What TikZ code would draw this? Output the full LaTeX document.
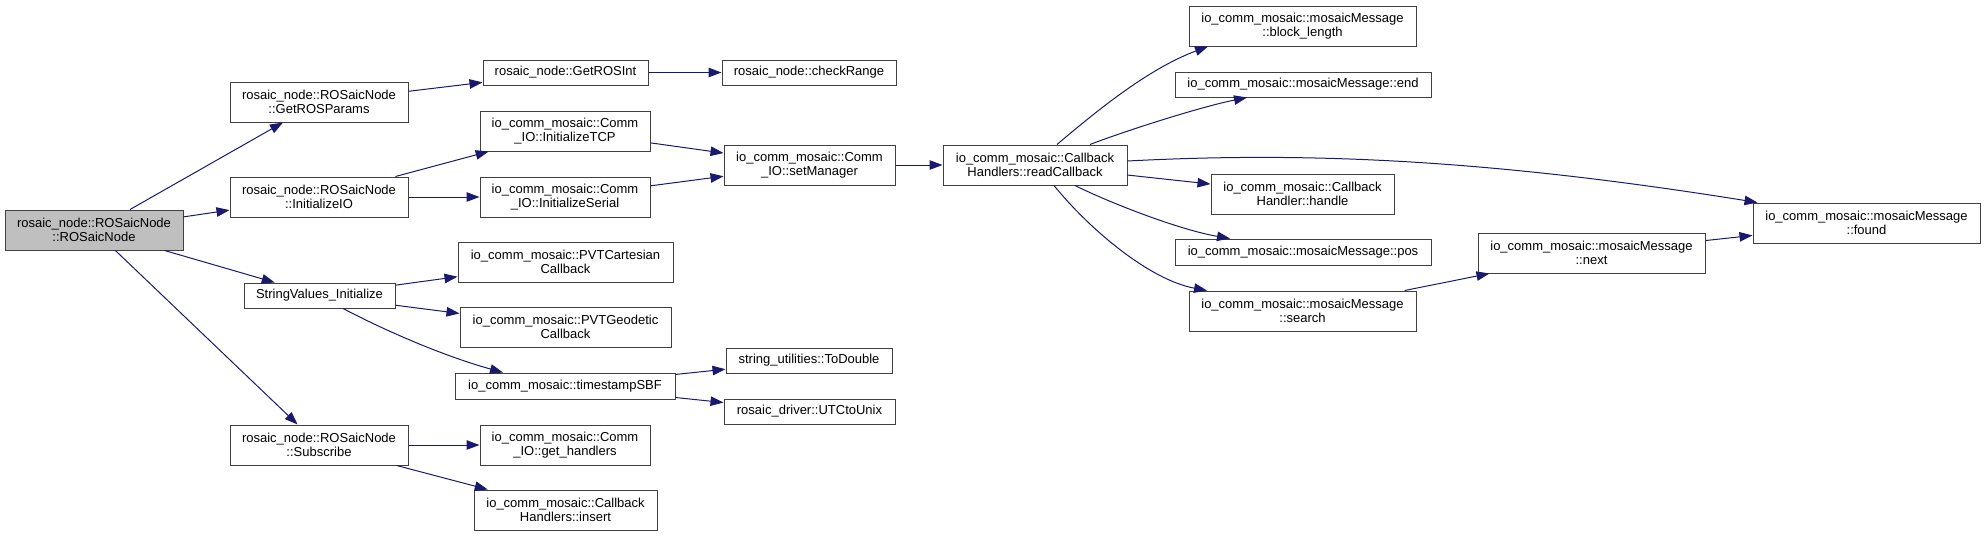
\documentclass[tikz,border=0pt]{standalone}
\usepackage{fontspec}
\setmainfont{Liberation Sans}
\usetikzlibrary{arrows.meta}
\definecolor{edgeblue}{HTML}{191970}
\definecolor{boxgray}{HTML}{BFBFBF}
\definecolor{boxline}{HTML}{404040}
\tikzset{
  fn/.style={draw=boxline, line width=1pt, fill=white, inner sep=0pt, align=center,
    font=\fontsize{13pt}{14.5pt}\selectfont},
  cur/.style={fn, fill=boxgray},
  call/.style={draw=edgeblue, line width=1pt, -{Triangle[length=13pt,width=9.5pt]}, shorten >=0pt}
}
\begin{document}
\begin{tikzpicture}[x=1pt,y=-1pt]
\useasboundingbox (0,0) rectangle (1985,536);
% column 1
\node[cur, minimum width=178pt, minimum height=40pt] (main) at (94,230) {rosaic\_node::ROSaicNode\\::ROSaicNode};
% column 2
\node[fn, minimum width=178pt, minimum height=40pt] (gp) at (319,102) {rosaic\_node::ROSaicNode\\::GetROSParams};
\node[fn, minimum width=178pt, minimum height=40pt] (iio) at (319,197) {rosaic\_node::ROSaicNode\\::InitializeIO};
\node[fn, minimum width=151pt, minimum height=25pt] (sv) at (319.5,295.5) {StringValues\_Initialize};
\node[fn, minimum width=178pt, minimum height=40pt] (sub) at (319,445) {rosaic\_node::ROSaicNode\\::Subscribe};
% column 3
\node[fn, minimum width=165pt, minimum height=25pt] (gri) at (565.5,72.5) {rosaic\_node::GetROSInt};
\node[fn, minimum width=170pt, minimum height=40pt] (tcp) at (565,131) {io\_comm\_mosaic::Comm\\\_IO::InitializeTCP};
\node[fn, minimum width=170pt, minimum height=40pt] (ser) at (565,197) {io\_comm\_mosaic::Comm\\\_IO::InitializeSerial};
\node[fn, minimum width=215pt, minimum height=40pt] (pvtc) at (565.5,262) {io\_comm\_mosaic::PVTCartesian\\Callback};
\node[fn, minimum width=211pt, minimum height=40pt] (pvtg) at (565.5,327) {io\_comm\_mosaic::PVTGeodetic\\Callback};
\node[fn, minimum width=220pt, minimum height=26pt] (ts) at (565,386) {io\_comm\_mosaic::timestampSBF};
\node[fn, minimum width=170pt, minimum height=40pt] (gh) at (565,445) {io\_comm\_mosaic::Comm\\\_IO::get\_handlers};
\node[fn, minimum width=183pt, minimum height=40pt] (ins) at (565.5,510) {io\_comm\_mosaic::Callback\\Handlers::insert};
% column 4
\node[fn, minimum width=174pt, minimum height=25pt] (cr) at (809,72.5) {rosaic\_node::checkRange};
\node[fn, minimum width=171pt, minimum height=40pt] (sm) at (809.5,165) {io\_comm\_mosaic::Comm\\\_IO::setManager};
\node[fn, minimum width=166pt, minimum height=25pt] (td) at (809,360.5) {string\_utilities::ToDouble};
\node[fn, minimum width=171pt, minimum height=25pt] (utc) at (809.5,411.5) {rosaic\_driver::UTCtoUnix};
% column 5
\node[fn, minimum width=184pt, minimum height=40pt] (rc) at (1035,165) {io\_comm\_mosaic::Callback\\Handlers::readCallback};
% column 6
\node[fn, minimum width=227pt, minimum height=40pt] (bl) at (1302.5,26) {io\_comm\_mosaic::mosaicMessage\\::block\_length};
\node[fn, minimum width=256pt, minimum height=25pt] (mend) at (1303,84.5) {io\_comm\_mosaic::mosaicMessage::end};
\node[fn, minimum width=183pt, minimum height=40pt] (hd) at (1302.5,194) {io\_comm\_mosaic::Callback\\Handler::handle};
\node[fn, minimum width=256pt, minimum height=26pt] (mpos) at (1303,252) {io\_comm\_mosaic::mosaicMessage::pos};
\node[fn, minimum width=227pt, minimum height=40pt] (sr) at (1302.5,311) {io\_comm\_mosaic::mosaicMessage\\::search};
% column 7
\node[fn, minimum width=227pt, minimum height=40pt] (nx) at (1591.5,253) {io\_comm\_mosaic::mosaicMessage\\::next};
% column 8
\node[fn, minimum width=227pt, minimum height=40pt] (fd) at (1866.5,223) {io\_comm\_mosaic::mosaicMessage\\::found};

% edges
\draw[call] (main) -- (gp);
\draw[call] (main) -- (iio);
\draw[call] (main) -- (sv);
\draw[call] (main) -- (sub);
\draw[call] (gp) -- (gri);
\draw[call] (gri) -- (cr);
\draw[call] (iio) -- (tcp);
\draw[call] (iio) -- (ser);
\draw[call] (tcp) -- (sm);
\draw[call] (ser) -- (sm);
\draw[call] (sm) -- (rc);
\draw[call] ([xshift=22pt]rc.north) .. controls (1100,108) and (1150,68) .. ([xshift=-94.5pt]bl.south);
\draw[call] ([xshift=55pt]rc.north) .. controls (1125,131) and (1200,107) .. ([xshift=-56pt]mend.south);
\draw[call] ([yshift=4pt]rc.east) .. controls (1300,152) and (1480,158) .. ([xshift=5pt]fd.north west);
\draw[call] (rc) -- (hd);
\draw[call] ([xshift=40pt]rc.south) .. controls (1110,203) and (1180,230) .. ([xshift=-73pt]mpos.north);
\draw[call] ([xshift=19pt]rc.south) .. controls (1090,230) and (1150,280) .. ([xshift=-95.5pt]sr.north);
\draw[call] (sr) -- (nx);
\draw[call] (nx) -- (fd);
\draw[call] (sv) -- (pvtc);
\draw[call] (sv) -- (pvtg);
\draw[call] ([xshift=23.5pt]sv.south) .. controls (380,328) and (440,355) .. ([xshift=-62pt]ts.north);
\draw[call] (ts) -- (td);
\draw[call] (ts) -- (utc);
\draw[call] (sub) -- (gh);
\draw[call] (sub) -- (ins);
\end{tikzpicture}
\end{document}
